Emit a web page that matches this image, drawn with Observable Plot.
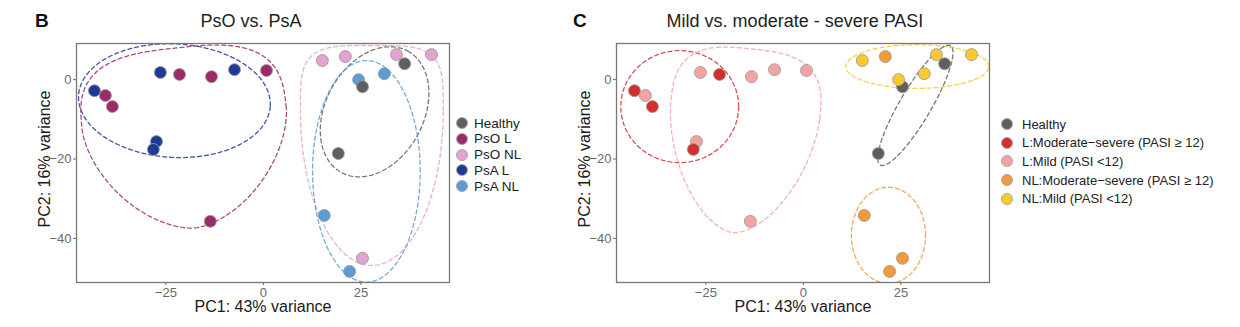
<!DOCTYPE html>
<html><head><meta charset="utf-8">
<script src="https://cdn.jsdelivr.net/npm/d3@7"></script>
<script src="https://cdn.jsdelivr.net/npm/@observablehq/plot@0.6"></script>
<style>
body{margin:0;background:#fff;font-family:"Liberation Sans",Arial,Helvetica,sans-serif;}
#wrap{position:relative;width:1240px;height:327px;overflow:hidden;background:#fff;}
.panel{position:absolute;top:0;}
.lbl{position:absolute;top:10px;font-weight:bold;font-size:19px;color:#111;}
.title{position:absolute;top:11px;font-size:18px;color:#222;transform:translateX(-50%);white-space:nowrap;}
.leg{position:absolute;color:#222;}
.row{position:absolute;left:0;white-space:nowrap;display:flex;align-items:center;height:16px;}
.sw{display:inline-block;border-radius:50%;box-sizing:border-box;border:1px solid #a8a8a8;}
</style></head>
<body><div id="wrap"></div>
<script>
// ---- data ----
const pc1 = [-43.3,-40.5,-38.7,-26.4,-21.5,-13.3,-7.4,0.8,-27.4,-28.2,-13.6,15.1,21.0,34.1,43.1,25.4,36.2,25.4,19.2,24.4,31.0,15.6,22.1];
const pc2 = [-2.8,-4.0,-6.8,1.8,1.3,0.75,2.5,2.3,-15.6,-17.6,-35.7,4.8,5.8,6.3,6.3,-45.0,4.0,-1.8,-18.6,0.0,1.5,-34.2,-48.3];
const groupB = ["PsA L","PsO L","PsO L","PsA L","PsO L","PsO L","PsA L","PsO L","PsA L","PsA L","PsO L","PsO NL","PsO NL","PsO NL","PsO NL","PsO NL","Healthy","Healthy","Healthy","PsA NL","PsA NL","PsA NL","PsA NL"];
const MS_L = "L:Moderate\u2212severe (PASI \u2265 12)";
const MI_L = "L:Mild (PASI <12)";
const MS_NL = "NL:Moderate\u2212severe (PASI \u2265 12)";
const MI_NL = "NL:Mild (PASI <12)";
const groupC = [MS_L,MI_L,MS_L,MI_L,MS_L,MI_L,MI_L,MI_L,MI_L,MS_L,MI_L,MI_NL,MS_NL,MI_NL,MI_NL,MS_NL,"Healthy","Healthy","Healthy",MI_NL,MI_NL,MS_NL,MS_NL];

const catsB = ["Healthy","PsO L","PsO NL","PsA L","PsA NL"];
const colsB = ["#5f5f5f","#9c2a68","#e3a2d0","#1d3a94","#5d9bd6"];
const catsC = ["Healthy",MS_L,MI_L,MS_NL,MI_NL];
const colsC = ["#5f5f5f","#d22f2f","#f4a3a3","#f2993a","#f9c92e"];

const xTicks = [-25,0,25];
const yTicks = [-40,-20,0];

// group outline estimates (data units): centre, half-width, upper/lower half-heights,
// upper/lower curve exponents, rotation (deg)
const ellB_group = ["PsA L","PsO L","PsO NL","Healthy","PsA NL"];
const ellB_cx  = [-22.8,-20.3,27.8,28.5,26.4];
const ellB_cy  = [-5.3,-9.8,-7.8,-8.1,-23.1];
const ellB_a   = [24.6,26.3,18.3,17.5,13.8];
const ellB_bT  = [14.3,17.9,16.4,12.5,27.9];
const ellB_bB  = [14.3,27.7,39.0,12.5,27.9];
const ellB_nT  = [2,3,4,2,2];
const ellB_nB  = [2,1.7,2,2,2];
const ellB_ang = [-3,6,0,60,0];

const ellC_group = [MS_L,MI_L,MS_NL,MI_NL,"Healthy"];
const ellC_cx  = [-31.7,-14.9,21.8,29.2,28.7];
const ellC_cy  = [-6.8,-7.8,-39.2,3.3,-6.5];
const ellC_a   = [15.1,19.2,9.5,18.3,17.5];
const ellC_bT  = [14.1,15.6,12.1,5.5,4];
const ellC_bB  = [14.1,30.9,12.1,5.5,4];
const ellC_nT  = [2,3,2,2,2];
const ellC_nB  = [2,1.7,2,2,2];
const ellC_ang = [0,-6,0,0,59];

function outlines(groups,cx,cy,a,bT,bB,nT,nB,ang){
  const out=[];
  const sp=(v,e)=>Math.sign(v)*Math.pow(Math.abs(v),e);
  groups.forEach((g,i)=>{
    const th=ang[i]*Math.PI/180;
    for(let k=0;k<=240;k++){
      const t=k/240*2*Math.PI, c=Math.cos(t), s=Math.sin(t);
      const up=s>=0, n=up?nT[i]:nB[i], b=up?bT[i]:bB[i];
      const ex=a[i]*sp(c,2/n), ey=b*sp(s,2/n);
      out.push({g, x:cx[i]+ex*Math.cos(th)-ey*Math.sin(th), y:cy[i]+ex*Math.sin(th)+ey*Math.cos(th)});
    }
  });
  return out;
}

const pts = pc1.map((x,i)=>({x, y:pc2[i], gB:groupB[i], gC:groupC[i]}));
const ptsB = [...pts.filter(d=>d.gB!=="Healthy"), ...pts.filter(d=>d.gB==="Healthy")];
const ptsC = pts;

function panel(data, key, cats, cols, ell){
  return Plot.plot({
    width:460, height:327,
    marginLeft:76, marginRight:11, marginTop:43, marginBottom:45,
    style:{fontFamily:'"Liberation Sans",Arial,sans-serif', background:"transparent"},
    x:{domain:[-47.9,47.7]},
    y:{domain:[-51.1,9.1]},
    color:{domain:cats, range:cols},
    marks:[
      Plot.line(ell,{x:"x",y:"y",z:"g",stroke:d=>cols[cats.indexOf(d.g)],strokeOpacity:0.85,strokeWidth:1.3,strokeDasharray:"4,3",clip:true}),
      Plot.dot(data,{x:"x",y:"y",fill:key,r:6,stroke:"#9d9d9d",strokeWidth:0.9}),
      Plot.frame({stroke:"#777",strokeWidth:1.3}),
      Plot.axisX({ticks:xTicks,tickSize:3,tickPadding:2,fontSize:13,color:"#6a6a6a",label:null}),
      Plot.axisY({ticks:yTicks,tickSize:3,tickPadding:2,fontSize:13,color:"#6a6a6a",label:null}),
      Plot.text(["PC1: 43% variance"],{frameAnchor:"bottom",dy:24,textAnchor:"middle",lineAnchor:"middle",fontSize:16,fill:"#1a1a1a"}),
      Plot.text(["PC2: 16% variance"],{frameAnchor:"left",dx:-32,dy:-4,textAnchor:"middle",lineAnchor:"middle",rotate:-90,fontSize:16,fill:"#1a1a1a"})
    ]
  });
}

const wrap=document.getElementById("wrap");
function place(el,left){el.classList.add("panel");el.style.left=left+"px";wrap.appendChild(el);}
place(panel(ptsB,"gB",catsB,colsB,outlines(ellB_group,ellB_cx,ellB_cy,ellB_a,ellB_bT,ellB_bB,ellB_nT,ellB_nB,ellB_ang)),0);
place(panel(ptsC,"gC",catsC,colsC,outlines(ellC_group,ellC_cx,ellC_cy,ellC_a,ellC_bT,ellC_bB,ellC_nT,ellC_nB,ellC_ang)),540);

function addDiv(cls,txt,left){const d=document.createElement("div");d.className=cls;d.textContent=txt;d.style.left=left+"px";wrap.appendChild(d);return d;}
addDiv("lbl","B",35);
addDiv("lbl","C",573);
addDiv("title","PsO vs. PsA",251);
addDiv("title","Mild vs. moderate - severe PASI",795);

function legend(cats,cols,left,top,step,fs,dia,gap){
  const lg=document.createElement("div");lg.className="leg";lg.style.left=left+"px";lg.style.top=top+"px";lg.style.fontSize=fs+"px";
  cats.forEach((c,i)=>{
    const r=document.createElement("div");r.className="row";r.style.top=(i*step-8)+"px";
    const s=document.createElement("span");s.className="sw";s.style.width=dia+"px";s.style.height=dia+"px";s.style.background=cols[i];s.style.marginRight=gap+"px";
    const t=document.createElement("span");t.textContent=c;
    r.appendChild(s);r.appendChild(t);lg.appendChild(r);
  });
  wrap.appendChild(lg);
}
legend(catsB,colsB,456,123,15.8,13.5,12,6);
legend(catsC,colsC,1001,124,18.7,13,12,9);
</script></body></html>
